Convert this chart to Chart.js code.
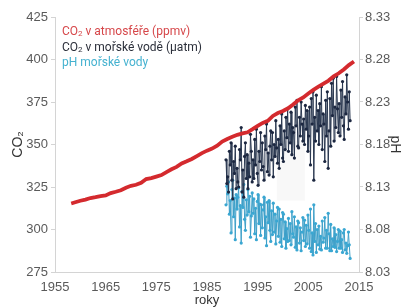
<!DOCTYPE html>
<html>
<head>
<meta charset="utf-8">
<script src="https://cdn.jsdelivr.net/npm/chart.js@4"></script>
<style>
  body { margin: 0; background: #fff; }
  #wrap { position: relative; width: 403px; height: 308px; }
  #legend { position: absolute; left: 62px; top: 24px; font: 12px Roboto, sans-serif; line-height: 15.5px; }
  #legend sub { font-size: 8px; vertical-align: -1px; line-height: 0; }
</style>
</head>
<body>
<div id="wrap">
  <canvas id="chart" width="403" height="308"></canvas>
  <div id="legend">
    <div style="color:#d6474a">CO<sub>2</sub> v atmosféře (ppmv)</div>
    <div style="color:#2b2f3a">CO<sub>2</sub> v mořské vodě (µatm)</div>
    <div style="color:#45b2d0">pH mořské vody</div>
  </div>
</div>
<script>
// atmospheric CO2 (ppmv)
const airYears = [1958.2, 1959, 1960, 1961, 1962, 1963, 1964, 1965, 1966, 1967, 1968, 1969, 1970,
  1971, 1972, 1973, 1974, 1975, 1976, 1977, 1978, 1979, 1980, 1981, 1982, 1983, 1984, 1985, 1986,
  1987, 1988, 1989, 1990, 1991, 1992, 1993, 1994, 1995, 1996, 1997, 1998, 1999, 2000, 2001, 2002,
  2003, 2004, 2005, 2006, 2007, 2008, 2009, 2010, 2011, 2012, 2013, 2014];
const airCO2 = [315.3, 316.0, 316.9, 317.6, 318.5, 319.0, 319.6, 320.0, 321.4, 322.2, 323.1, 324.6, 325.7,
  326.3, 327.5, 329.7, 330.2, 331.1, 332.0, 333.8, 335.4, 336.8, 338.8, 340.1, 341.5, 343.2, 344.9, 346.4, 347.6,
  349.3, 351.7, 353.2, 354.5, 355.7, 356.5, 357.2, 359.0, 361.0, 362.7, 363.9, 366.8, 368.5, 369.7, 371.3, 373.5,
  376.0, 377.7, 380.0, 382.1, 384.0, 385.8, 387.6, 390.1, 391.9, 394.1, 396.7, 398.8];

// ocean sampling: years and position of the samples inside each year
const oceanYears = [1988, 1989, 1990, 1991, 1992, 1993, 1994, 1995, 1996, 1997, 1998, 1999, 2000,
  2001, 2002, 2003, 2004, 2005, 2006, 2007, 2008, 2009, 2010, 2011, 2012, 2013];
const sampleFractions = [0.08, 0.25, 0.42, 0.58, 0.75, 0.92];

// seawater CO2 (µatm), one row per year
const seaCO2 = [
  [null, null, null, null, 341, 327],
  [331, 322, 346, 338, 351, 329],
  [318, 340, 333, 349, 324, 336],
  [328, 325, 347, 341, 360, 322],
  [335, 319, 343, 351, 330, 344],
  [324, 339, 331, 356, 346, 328],
  [341, 330, 353, 338, 359, 333],
  [326, 346, 340, 357, 335, 351],
  [337, 329, 355, 347, 362, 334],
  [345, 332, 349, 358, 341, 357],
  [331, 350, 343, 364, 348, 339],
  [353, 336, 361, 350, 368, 342],
  [340, 358, 347, 366, 354, 371],
  [346, 362, 351, 369, 344, 360],
  [357, 342, 372, 361, 376, 349],
  [348, 366, 355, 375, 362, 352],
  [365, 350, 373, 359, 370, 346],
  [355, 372, 338, 377, 362, 381],
  [329, 366, 352, 379, 358, 370],
  [350, 374, 361, 384, 347, 368],
  [362, 340, 376, 355, 381, 336],
  [358, 377, 349, 386, 367, 389],
  [352, 372, 360, 390, 371, 357],
  [374, 355, 382, 366, 387, 361],
  [353, 378, 368, 391, 375, 359],
  [381, 364, null, null, null, null]
];

// seawater pH, one row per year
const seaPH = [
  [null, null, null, null, 8.109, 8.131],
  [8.122, 8.136, 8.098, 8.114, 8.076, 8.127],
  [8.138, 8.095, 8.117, 8.068, 8.121, 8.104],
  [8.118, 8.129, 8.083, 8.108, 8.064, 8.125],
  [8.106, 8.133, 8.092, 8.079, 8.115, 8.097],
  [8.127, 8.101, 8.119, 8.071, 8.096, 8.123],
  [8.099, 8.116, 8.075, 8.105, 8.068, 8.113],
  [8.121, 8.087, 8.110, 8.073, 8.109, 8.082],
  [8.103, 8.118, 8.070, 8.095, 8.061, 8.112],
  [8.088, 8.114, 8.079, 8.066, 8.102, 8.074],
  [8.111, 8.077, 8.098, 8.063, 8.090, 8.106],
  [8.072, 8.104, 8.065, 8.092, 8.060, 8.100],
  [8.098, 8.069, 8.089, 8.058, 8.081, 8.066],
  [8.093, 8.067, 8.087, 8.062, 8.101, 8.075],
  [8.071, 8.095, 8.059, 8.083, 8.056, 8.090],
  [8.088, 8.064, 8.082, 8.055, 8.077, 8.094],
  [8.067, 8.091, 8.060, 8.085, 8.063, 8.097],
  [8.079, 8.058, 8.104, 8.054, 8.076, 8.050],
  [8.109, 8.066, 8.087, 8.053, 8.080, 8.062],
  [8.084, 8.057, 8.072, 8.056, 8.090, 8.065],
  [8.070, 8.094, 8.058, 8.079, 8.058, 8.099],
  [8.075, 8.055, 8.086, 8.055, 8.069, 8.060],
  [8.082, 8.059, 8.074, 8.054, 8.066, 8.080],
  [8.058, 8.078, 8.058, 8.068, 8.053, 8.076],
  [8.080, 8.056, 8.064, 8.052, 8.061, 8.077],
  [8.062, 8.046, null, null, null, null]
];

const yearTicks = [1955, 1965, 1975, 1985, 1995, 2005, 2015];
const co2Ticks = [275, 300, 325, 350, 375, 400, 425];
const phTicks = [8.03, 8.08, 8.13, 8.18, 8.23, 8.28, 8.33];

// faint grey band behind the ocean data
const shade = { from: 1998.8, to: 2004.3, low: 317, high: 352 };

function toPoints(rows) {
  const pts = [];
  rows.forEach((row, i) => {
    row.forEach((v, j) => {
      if (v !== null) pts.push({ x: oceanYears[i] + sampleFractions[j], y: v });
    });
  });
  return pts;
}

const shadePlugin = {
  id: 'shade',
  beforeDatasetsDraw(chart) {
    const { ctx, scales } = chart;
    const x1 = scales.x.getPixelForValue(shade.from);
    const x2 = scales.x.getPixelForValue(shade.to);
    const y1 = scales.y.getPixelForValue(shade.high);
    const y2 = scales.y.getPixelForValue(shade.low);
    ctx.save();
    ctx.fillStyle = 'rgba(120,120,120,0.05)';
    ctx.fillRect(x1, y1, x2 - x1, y2 - y1);
    ctx.restore();
  }
};

const tickFont = { family: 'Liberation Sans', size: 13 };
const axisColor = '#d4d4d4';

new Chart(document.getElementById('chart'), {
  type: 'line',
  data: {
    datasets: [
      {
        label: 'CO2 v atmosféře (ppmv)',
        data: airYears.map((x, i) => ({ x, y: airCO2[i] })),
        borderColor: '#d42a2e',
        borderWidth: 3.8,
        pointRadius: 0,
        yAxisID: 'y'
      },
      {
        label: 'CO2 v mořské vodě (µatm)',
        data: toPoints(seaCO2),
        borderColor: '#2a3850',
        backgroundColor: '#1c2740',
        borderWidth: 1,
        pointRadius: 1.6,
        pointBorderWidth: 0,
        yAxisID: 'y'
      },
      {
        label: 'pH mořské vody',
        data: toPoints(seaPH),
        borderColor: '#3d9fc8',
        backgroundColor: '#3aa7d2',
        borderWidth: 1,
        pointRadius: 1.6,
        pointBorderWidth: 0,
        yAxisID: 'y1'
      }
    ]
  },
  options: {
    responsive: false,
    animation: false,
    layout: { padding: { top: 17, left: 0, right: 0, bottom: 0 } },
    plugins: { legend: { display: false }, tooltip: { enabled: false } },
    scales: {
      x: {
        type: 'linear',
        min: 1955,
        max: 2015,
        afterBuildTicks: s => { s.ticks = yearTicks.map(v => ({ value: v })); },
        afterFit: s => { s.height = 36; },
        grid: { display: false, drawTicks: false },
        border: { color: axisColor },
        ticks: { font: tickFont, color: '#5a5a5a', padding: 8, maxRotation: 0, callback: v => String(v) },
        title: { display: true, text: 'roky', font: { family: 'Liberation Sans', size: 13 }, color: '#333', padding: { top: 1, bottom: 0 } }
      },
      y: {
        position: 'left',
        min: 275,
        max: 425,
        afterBuildTicks: s => { s.ticks = co2Ticks.map(v => ({ value: v })); },
        afterFit: s => { s.width = 55; },
        grid: { drawOnChartArea: false, tickLength: 4, color: axisColor },
        border: { color: axisColor },
        ticks: { font: tickFont, color: '#5a5a5a', padding: 3 },
        title: { display: true, text: 'CO₂', font: { family: 'Liberation Sans', size: 14 }, color: '#333', padding: { top: 10, bottom: 0 } }
      },
      y1: {
        position: 'right',
        min: 8.03,
        max: 8.33,
        afterBuildTicks: s => { s.ticks = phTicks.map(v => ({ value: v })); },
        afterFit: s => { s.width = 44; },
        grid: { drawOnChartArea: false, tickLength: 4, color: axisColor },
        border: { color: axisColor },
        ticks: { font: tickFont, color: '#5a5a5a', padding: 2, callback: v => v.toFixed(2) },
        title: { display: true, text: 'pH', font: { family: 'Liberation Sans', size: 14 }, color: '#333', padding: { top: 0, bottom: 0 } }
      }
    }
  },
  plugins: [shadePlugin]
});
</script>
</body>
</html>
